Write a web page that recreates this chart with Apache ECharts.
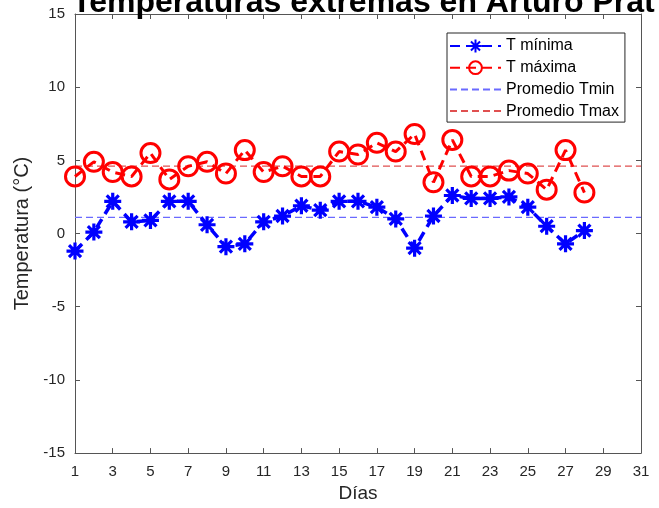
<!DOCTYPE html>
<html>
<head>
<meta charset="utf-8">
<script src="https://cdn.jsdelivr.net/npm/echarts@6/dist/echarts.min.js"></script>
<style>html,body{margin:0;padding:0;background:#fff}#c{width:659px;height:508px}</style>
</head>
<body>
<div id="c"></div>
<script>
const days = ['1','2','3','4','5','6','7','8','9','10','11','12','13','14','15','16','17','18','19','20','21','22','23','24','25','26','27','28','29','30','31'];
const tMin = [-1.2,0.1,2.2,0.8,0.9,2.2,2.2,0.6,-0.9,-0.7,0.8,1.2,1.9,1.6,2.2,2.2,1.8,1.0,-1.0,1.2,2.6,2.4,2.4,2.5,1.8,0.5,-0.7,0.2];
const tMax = [3.9,4.9,4.2,3.9,5.5,3.7,4.6,4.9,4.1,5.7,4.2,4.6,3.9,3.9,5.6,5.4,6.2,5.6,6.8,3.5,6.4,3.9,3.9,4.3,4.1,3.0,5.7,2.8];
const avgMin = [1.1, 1.1];
const avgMax = [4.6, 4.6];
const avgDays = ['1', '31'];
const yTicks = [-15, -10, -5, 0, 5, 10, 15];
const seriesNames = ['T mínima', 'T máxima', 'Promedio Tmin', 'Promedio Tmax'];
const titleText = 'Temperaturas extremas en Arturo Prat';

const FONT = 'Liberation Sans, Arial, sans-serif';
const AX = '#555555';
const star = 'path://M0,-10L0,10M-10,0L10,0M-7.07,-7.07L7.07,7.07M-7.07,7.07L7.07,-7.07';
const AVG_BLUE = '#6a6aff';
const AVG_RED = '#e05050';

const chart = echarts.init(document.getElementById('c'), null, {renderer: 'canvas'});
const catAxisBase = {
  type: 'category', data: days, boundaryGap: false,
  axisLine: {show: true, onZero: false, lineStyle: {color: AX, width: 1}},
  axisTick: {show: true, inside: true, length: 5, interval: 1, lineStyle: {color: AX}},
  splitLine: {show: false}
};
const valAxisBase = {
  type: 'value', min: yTicks[0], max: yTicks[yTicks.length - 1], interval: 5,
  axisLine: {show: true, onZero: false, lineStyle: {color: AX, width: 1}},
  axisTick: {show: true, inside: true, length: 5, lineStyle: {color: AX}},
  splitLine: {show: false}
};
chart.setOption({
  animation: false,
  backgroundColor: '#fff',
  title: {
    text: titleText, left: 72, top: -13, padding: 0,
    textStyle: {fontFamily: FONT, fontSize: 32, fontWeight: 'bold', color: '#000'}
  },
  grid: {left: 75, right: 18, top: 14, bottom: 53, containLabel: false},
  legend: {
    orient: 'vertical', left: 447, top: 33,
    padding: [5, 6, 3, 2], itemGap: 5.7, itemWidth: 51, itemHeight: 16,
    backgroundColor: '#fff', borderColor: '#262626', borderWidth: 1, borderRadius: 0,
    textStyle: {fontFamily: FONT, fontSize: 16, color: '#000'},
    data: [
      {name: seriesNames[0]},
      {name: seriesNames[1]},
      {name: seriesNames[2], itemStyle: {color: 'rgba(0,0,0,0)', borderWidth: 0}},
      {name: seriesNames[3], itemStyle: {color: 'rgba(0,0,0,0)', borderWidth: 0}}
    ]
  },
  xAxis: [
    Object.assign({}, catAxisBase, {
      position: 'bottom',
      name: 'Días', nameLocation: 'middle', nameGap: 30,
      nameTextStyle: {fontFamily: FONT, fontSize: 19, color: '#262626'},
      axisLabel: {show: true, interval: 1, margin: 11, fontFamily: FONT, fontSize: 15, color: '#262626'}
    }),
    Object.assign({}, catAxisBase, {position: 'top', axisLabel: {show: false}})
  ],
  yAxis: [
    Object.assign({}, valAxisBase, {
      position: 'left',
      name: 'Temperatura (°C)', nameLocation: 'middle', nameGap: 36,
      nameTextStyle: {fontFamily: FONT, fontSize: 20, color: '#262626'},
      axisLabel: {show: true, margin: 10, fontFamily: FONT, fontSize: 15, color: '#262626'}
    }),
    Object.assign({}, valAxisBase, {position: 'right', axisLabel: {show: false}})
  ],
  series: [
    {
      name: seriesNames[0], type: 'line', data: tMin,
      symbol: star, symbolSize: 17, showSymbol: true, showAllSymbol: true,
      itemStyle: {color: '#0000ff', borderColor: '#0000ff', borderWidth: 3.2},
      lineStyle: {color: '#0000ff', width: 3.5, type: [10, 6]},
      z: 3
    },
    {
      name: seriesNames[1], type: 'line', data: tMax,
      symbol: 'circle', symbolSize: 19, showSymbol: true, showAllSymbol: true,
      itemStyle: {color: 'rgba(0,0,0,0)', borderColor: '#ff0000', borderWidth: 3},
      lineStyle: {color: '#ff0000', width: 3, type: [10, 6]},
      z: 4
    },
    {
      name: seriesNames[2], type: 'line',
      data: avgDays.map((d, i) => [d, avgMin[i]]),
      symbol: 'none', itemStyle: {color: AVG_BLUE},
      lineStyle: {color: AVG_BLUE, width: 1.2, type: [7, 4]}, z: 2
    },
    {
      name: seriesNames[3], type: 'line',
      data: avgDays.map((d, i) => [d, avgMax[i]]),
      symbol: 'none', itemStyle: {color: AVG_RED},
      lineStyle: {color: AVG_RED, width: 1.2, type: [7, 4]}, z: 2
    }
  ]
});
</script>
</body>
</html>
